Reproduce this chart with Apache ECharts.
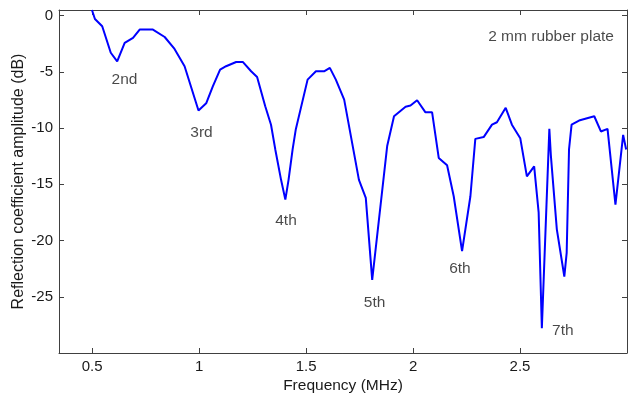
<!DOCTYPE html>
<html>
<head>
<meta charset="utf-8">
<script src="https://cdn.jsdelivr.net/npm/echarts@6/dist/echarts.min.js"></script>
<style>
  html, body { margin: 0; padding: 0; background: #fff; }
  #chart { width: 628px; height: 399px; }
</style>
</head>
<body>
<div id="chart"></div>
<script>
// Reflection coefficient spectrum of a 2 mm rubber plate
const freqMHz = [
  0.499, 0.513, 0.547, 0.587, 0.617, 0.652, 0.691, 0.722, 0.784, 0.839,
  0.885, 0.932, 0.997, 1.033, 1.064, 1.098, 1.126, 1.173, 1.204, 1.243,
  1.271, 1.309, 1.336, 1.356, 1.383, 1.403, 1.418, 1.437, 1.452, 1.507,
  1.546, 1.584, 1.611, 1.639, 1.678, 1.747, 1.779, 1.809, 1.879, 1.911,
  1.965, 1.988, 2.019, 2.058, 2.089, 2.120, 2.159, 2.190, 2.229, 2.268,
  2.291, 2.330, 2.369, 2.392, 2.433, 2.462, 2.501, 2.532, 2.566, 2.587,
  2.602, 2.637, 2.644, 2.672, 2.707, 2.718, 2.729, 2.741, 2.780, 2.847,
  2.878, 2.909, 2.946, 2.982, 2.996
];
const reflectionDb = [
  0.5, -0.3, -0.95, -3.3, -4.06, -2.43, -1.98, -1.24, -1.24, -1.9,
  -2.96, -4.5, -8.44, -7.8, -6.3, -4.8, -4.5, -4.12, -4.12, -4.95,
  -5.45, -8.06, -9.7, -11.9, -14.6, -16.36, -14.6, -11.9, -10.1, -5.69,
  -4.95, -4.95, -4.65, -5.69, -7.47, -14.6, -16.2, -23.5, -11.6, -8.95,
  -8.1, -8.0, -7.53, -8.6, -8.6, -12.65, -13.3, -16.06, -20.95, -16.06,
  -10.96, -10.8, -9.69, -9.48, -8.2, -9.7, -10.9, -14.3, -13.4, -17.5,
  -27.8, -10.07, -12.4, -19.0, -23.2, -21.1, -11.9, -9.7, -9.3, -8.95,
  -10.3, -10.07, -16.8, -10.6, -11.9
];

// Resonance order labels and their anchor points (MHz, dB)
const orderLabels = ['2nd', '3rd', '4th', '5th', '6th', '7th', '2 mm rubber plate'];
const orderLabelFreq = [0.651, 1.011, 1.406, 1.820, 2.219, 2.700, 2.645];
const orderLabelDb = [-5.69, -10.37, -18.28, -25.5, -22.5, -28.06, -1.87];

// Axis ticks
const xTicks = [0.5, 1, 1.5, 2, 2.5];
const xTickText = ['0.5', '1', '1.5', '2', '2.5'];
const yTicks = [0, -5, -10, -15, -20, -25];

const X_MIN = 0.345, X_MAX = 3.0, Y_MIN = -30, Y_MAX = 0.5;
const FONT = 'Liberation Sans, Arial, sans-serif';
const AXIS_COLOR = '#404040';
const TEXT_COLOR = '#1a1a1a';

const chart = echarts.init(document.getElementById('chart'), null, { renderer: 'canvas' });

const baseX = {
  type: 'value', min: X_MIN, max: X_MAX,
  axisLine: { show: true, onZero: false, lineStyle: { color: AXIS_COLOR, width: 1 } },
  axisTick: { show: true, inside: true, length: 5, customValues: xTicks, lineStyle: { color: AXIS_COLOR } },
  splitLine: { show: false }
};
const baseY = {
  type: 'value', min: Y_MIN, max: Y_MAX,
  axisLine: { show: true, onZero: false, lineStyle: { color: AXIS_COLOR, width: 1 } },
  axisTick: { show: true, inside: true, length: 5, customValues: yTicks, lineStyle: { color: AXIS_COLOR } },
  splitLine: { show: false }
};

chart.setOption({
  animation: false,
  backgroundColor: '#ffffff',
  grid: { left: 59, top: 10, right: 1, bottom: 46, containLabel: false, outerBoundsMode: 'none' },
  xAxis: [
    Object.assign({}, baseX, {
      position: 'bottom',
      name: 'Frequency (MHz)',
      nameLocation: 'middle',
      nameGap: 25,
      nameMoveOverlap: false,
      nameTextStyle: { fontFamily: FONT, fontSize: 15.5, color: TEXT_COLOR },
      axisLabel: {
        show: true, customValues: xTicks, margin: 6,
        fontFamily: FONT, fontSize: 15, color: TEXT_COLOR,
        formatter: v => xTickText[xTicks.indexOf(v)] ?? String(v)
      }
    }),
    Object.assign({}, baseX, { position: 'top', axisLabel: { show: false } })
  ],
  yAxis: [
    Object.assign({}, baseY, {
      position: 'left',
      name: 'Reflection coefficient amplitude (dB)',
      nameLocation: 'middle',
      nameGap: 32,
      nameMoveOverlap: false,
      nameRotate: 90,
      nameTextStyle: { fontFamily: FONT, fontSize: 16, color: TEXT_COLOR },
      axisLabel: {
        show: true, customValues: yTicks, margin: 6,
        fontFamily: FONT, fontSize: 15, color: TEXT_COLOR
      }
    }),
    Object.assign({}, baseY, { position: 'right', axisLabel: { show: false } })
  ],
  series: [
    {
      type: 'line',
      data: freqMHz.map((f, i) => [f, reflectionDb[i]]),
      showSymbol: false,
      symbol: 'none',
      clip: true,
      lineStyle: { color: '#0000ff', width: 2 },
      z: 3
    },
    {
      type: 'scatter',
      data: orderLabels.map((t, i) => ({ value: [orderLabelFreq[i], orderLabelDb[i]], name: t })),
      symbolSize: 0,
      silent: true,
      label: {
        show: true, position: 'inside',
        formatter: p => p.name,
        fontFamily: FONT, fontSize: 15.5, color: TEXT_COLOR
      },
      z: 4
    }
  ]
});
</script>
</body>
</html>
